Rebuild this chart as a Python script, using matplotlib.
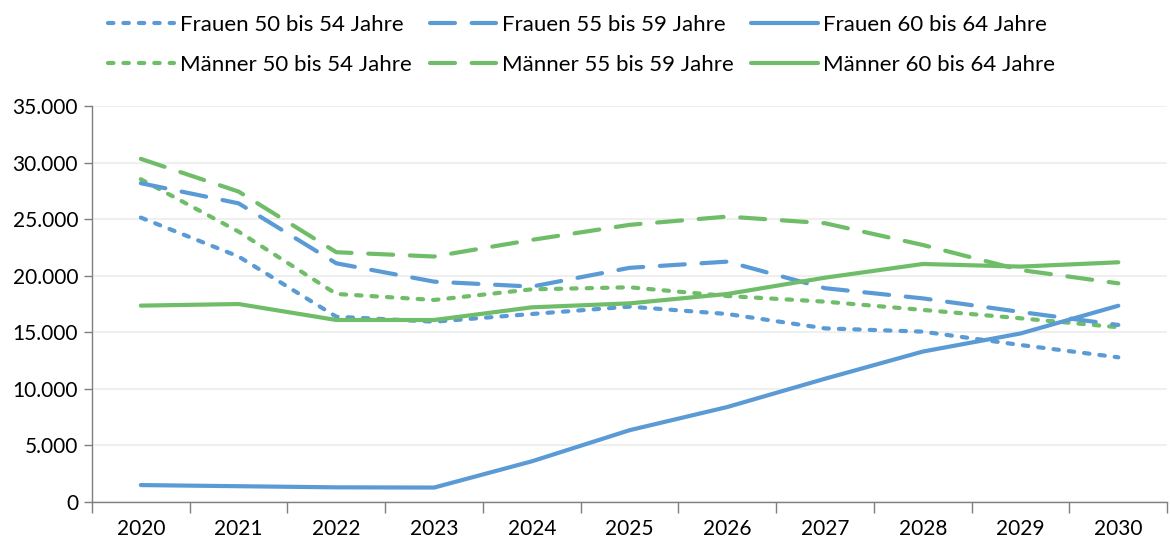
import matplotlib.pyplot as plt
from matplotlib.ticker import FuncFormatter

years = [2020, 2021, 2022, 2023, 2024, 2025, 2026, 2027, 2028, 2029, 2030]

frauen_50_54 = [25140, 21700, 16380, 15940, 16620, 17270, 16620, 15350, 15060, 13880, 12790]
frauen_55_59 = [28180, 26400, 21100, 19480, 19040, 20700, 21250, 18900, 18000, 16800, 15650]
frauen_60_64 = [1500, 1400, 1300, 1280, 3600, 6350, 8400, 10900, 13300, 14900, 17350]
maenner_50_54 = [28530, 23900, 18390, 17860, 18800, 18980, 18210, 17710, 16980, 16240, 15450]
maenner_55_59 = [30330, 27440, 22080, 21700, 23170, 24500, 25230, 24640, 22720, 20510, 19330]
maenner_60_64 = [17360, 17500, 16090, 16090, 17210, 17560, 18390, 19830, 21040, 20810, 21190]

blue = "#5B9BD5"
green = "#70BD69"

plt.rcParams['font.family'] = ['Lato', 'DejaVu Sans']

fig = plt.figure(figsize=(11.7, 5.41), dpi=100)
ax = fig.add_axes([0.0786, 0.072, 0.919, 0.732])

x = list(range(len(years)))
lw = 3.0
dot = (0, (1.3, 2.4))
dash = (0, (6.0, 4.0))

series = [
    (frauen_50_54, blue, dot, "Frauen 50 bis 54 Jahre"),
    (maenner_50_54, green, dot, "Männer 50 bis 54 Jahre"),
    (frauen_55_59, blue, dash, "Frauen 55 bis 59 Jahre"),
    (maenner_55_59, green, dash, "Männer 55 bis 59 Jahre"),
    (frauen_60_64, blue, "-", "Frauen 60 bis 64 Jahre"),
    (maenner_60_64, green, "-", "Männer 60 bis 64 Jahre"),
]

handles = []
for vals, col, ls, lab in series:
    h, = ax.plot(x, vals, color=col, linestyle=ls, linewidth=lw, label=lab,
                 dash_capstyle="round", solid_capstyle="round")
    handles.append(h)

ax.set_xlim(-0.5, 10.5)
ax.set_ylim(0, 35000)
ax.set_yticks(range(0, 35001, 5000))
ax.yaxis.set_major_formatter(FuncFormatter(lambda v, p: f"{int(v):,}".replace(",", ".")))
ax.set_xticks(x)
ax.set_xticklabels([str(y) for y in years])
ax.set_xticks([i - 0.5 for i in range(len(years) + 1)], minor=True)
ax.tick_params(axis="x", which="major", length=0, pad=12, labelsize=15)
ax.tick_params(axis="x", which="minor", length=8, color="#7f7f7f", width=1)
ax.tick_params(axis="y", length=6, color="#7f7f7f", width=1, labelsize=15, pad=4)

ax.grid(axis="y", color="#efefef", linewidth=1.5)
ax.set_axisbelow(True)
for s in ["top", "right"]:
    ax.spines[s].set_visible(False)
for s in ["left", "bottom"]:
    ax.spines[s].set_color("#7f7f7f")
    ax.spines[s].set_linewidth(1)

fig.legend(handles=handles, ncol=3, loc="upper left", bbox_to_anchor=(0.075, 1.01),
           frameon=False, fontsize=16, handlelength=3.0, handletextpad=0.25,
           columnspacing=0.8, labelspacing=0.9)

fig.savefig("out.png", dpi=100)
